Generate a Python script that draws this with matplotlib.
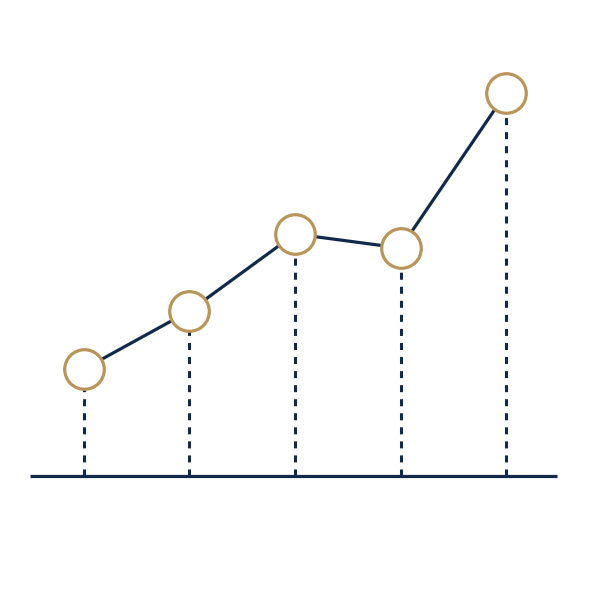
import numpy as np
import matplotlib
matplotlib.use("Agg")
from matplotlib import pyplot as plt

# values above the baseline
steps = [0, 1, 2, 3, 4]
values = [107, 165, 242, 228, 383]

navy = "#13294b"
gold = "#b8955a"

fig = plt.figure(figsize=(5.9, 5.9), dpi=100)
ax = fig.add_axes([0, 0, 1, 1])
ax.set_xlim(-0.796, 4.796)
ax.set_ylim(-114, 476)
ax.axis("off")

# baseline
ax.plot([-0.512, 4.483], [0, 0], color=navy, lw=2.3, solid_capstyle="butt", zorder=1)

# dashed drops
for x, v in zip(steps, values):
    ax.plot([x, x], [0, v], color=navy, lw=2.2, dashes=(2.3, 2.3),
            dash_capstyle="butt", zorder=1)

# line with markers
ax.plot(steps, values, color=navy, lw=2.3, zorder=2)
ax.plot(steps, values, "o", ms=28.5, mfc="white", mec=gold, mew=2.3, zorder=3)

fig.savefig("out.png", dpi=100)
